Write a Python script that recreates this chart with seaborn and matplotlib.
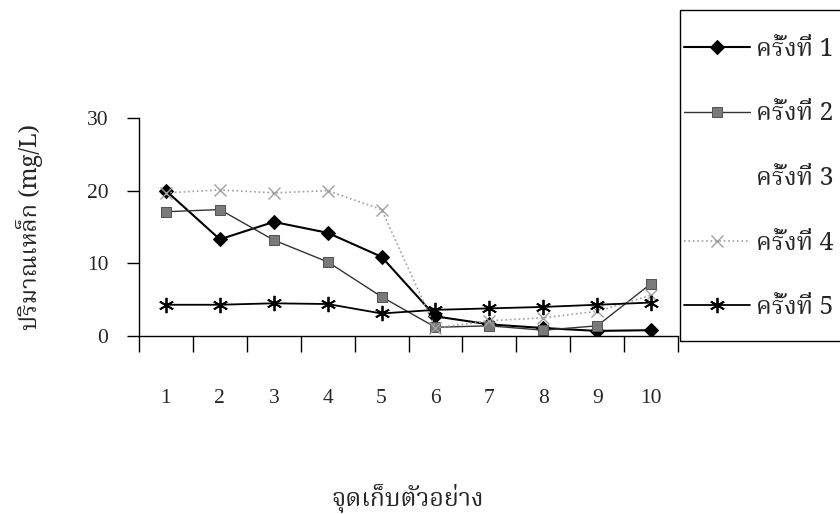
import matplotlib
matplotlib.use('Agg')
import matplotlib.pyplot as plt
from matplotlib import font_manager
from matplotlib.ft2font import FT2Font
from matplotlib.lines import Line2D
from matplotlib.patches import Rectangle
import seaborn as sns

# ข้อมูล (อ่านค่าจากกราฟ)
sites = ['1', '2', '3', '4', '5', '6', '7', '8', '9', '10']
round1 = [20.0, 13.3, 15.7, 14.2, 10.9, 2.7, 1.6, 1.1, 0.7, 0.8]
round2 = [17.1, 17.4, 13.2, 10.2, 5.4, 1.2, 1.4, 0.8, 1.4, 7.2]
round4 = [19.7, 20.1, 19.7, 20.0, 17.4, 1.1, 2.1, 2.5, 3.4, 5.6]
round5 = [4.3, 4.3, 4.5, 4.4, 3.1, 3.6, 3.8, 4.0, 4.3, 4.6]
labels = ['ครั้งที่ 1', 'ครั้งที่ 2', 'ครั้งที่ 3', 'ครั้งที่ 4', 'ครั้งที่ 5']

sns.set_style('white')


def find_thai_font():
    # หาฟอนต์ที่มีอักษรไทย
    names = []
    for f in font_manager.fontManager.ttflist:
        try:
            if 0x0E04 in FT2Font(f.fname).get_charmap():
                names.append(f.name)
        except Exception:
            pass
    for pref in ['Norasi', 'TlwgTypewriter', 'Noto Serif Thai', 'Garuda', 'Loma', 'Noto Sans Thai']:
        if pref in names:
            return pref
    return names[0] if names else 'DejaVu Sans'


thai = find_thai_font()
plt.rcParams['font.family'] = ['Liberation Serif', thai, 'DejaVu Sans']
thai_fam = [thai, 'Liberation Serif', 'DejaVu Sans']

W, H = 840, 514
fig = plt.figure(figsize=(8.4, 5.14), dpi=100)
ax = fig.add_axes([139 / W, 1 - 336 / H, (678 - 139) / W, (336 - 118) / H])

pos = list(range(len(sites)))
sns.lineplot(x=pos, y=round1, ax=ax, color='black', lw=1.5, marker='D', ms=7,
             mfc='black', mec='black')
sns.lineplot(x=pos, y=round2, ax=ax, color='#333333', lw=1.0, marker='s', ms=7,
             mfc='#7a7a7a', mec='#555555')
sns.lineplot(x=pos, y=round4, ax=ax, color='#a0a0a0', lw=1.2, linestyle=':',
             marker='x', ms=9, mec='#a0a0a0', mew=1.0)
sns.lineplot(x=pos, y=round5, ax=ax, color='black', lw=1.3, marker=(6, 2, 0), ms=11,
             mec='black', mew=1.3)

ax.set_xlim(-0.5, len(sites) - 0.5)
ax.set_ylim(0, 30)
ax.set_yticks([0, 10, 20, 30])
ax.tick_params(axis='y', direction='out', length=9, width=1, pad=13, labelsize=15.5,
               left=True, color='black')
ax.set_xticks([p - 0.5 for p in pos] + [len(sites) - 0.5])
ax.set_xticklabels([])
ax.tick_params(axis='x', which='major', direction='out', length=11.5, width=1,
               bottom=True, color='black')
ax.set_xticks(pos, minor=True)
ax.set_xticklabels(sites, minor=True)
ax.tick_params(axis='x', which='minor', length=0, pad=38, labelsize=15.5)
for s in ['top', 'right']:
    ax.spines[s].set_visible(False)
for s in ['left', 'bottom']:
    ax.spines[s].set_color('black')
    ax.spines[s].set_linewidth(1.0)
ax.set_xlabel('')
ax.set_ylabel('')

fig.text(30 / W, 1 - 227 / H, 'ปริมาณเหล็ก (mg/L)', rotation=90, ha='center', va='center',
         fontsize=17, family=thai_fam)
fig.text(408 / W, 1 - 498 / H, 'จุดเก็บตัวอย่าง', ha='center', va='center',
         fontsize=18, family=thai_fam)

# กรอบคำอธิบาย
fig.patches.append(Rectangle((680 / W, 1 - 341 / H), 180 / W, 331 / H, transform=fig.transFigure,
                             fill=False, edgecolor='black', lw=1.0))
lines = ax.get_lines()
handles = [lines[0], lines[1], Line2D([], [], color='none'), lines[2], lines[3]]
leg = fig.legend(handles, labels, loc='upper left', bbox_to_anchor=(684 / W, 1 - 37 / H),
                 frameon=False, borderaxespad=0, borderpad=0, handlelength=2.64,
                 handletextpad=0.25, labelspacing=1.58, prop={'family': thai_fam, 'size': 18})

fig.savefig('out.png', dpi=100)
